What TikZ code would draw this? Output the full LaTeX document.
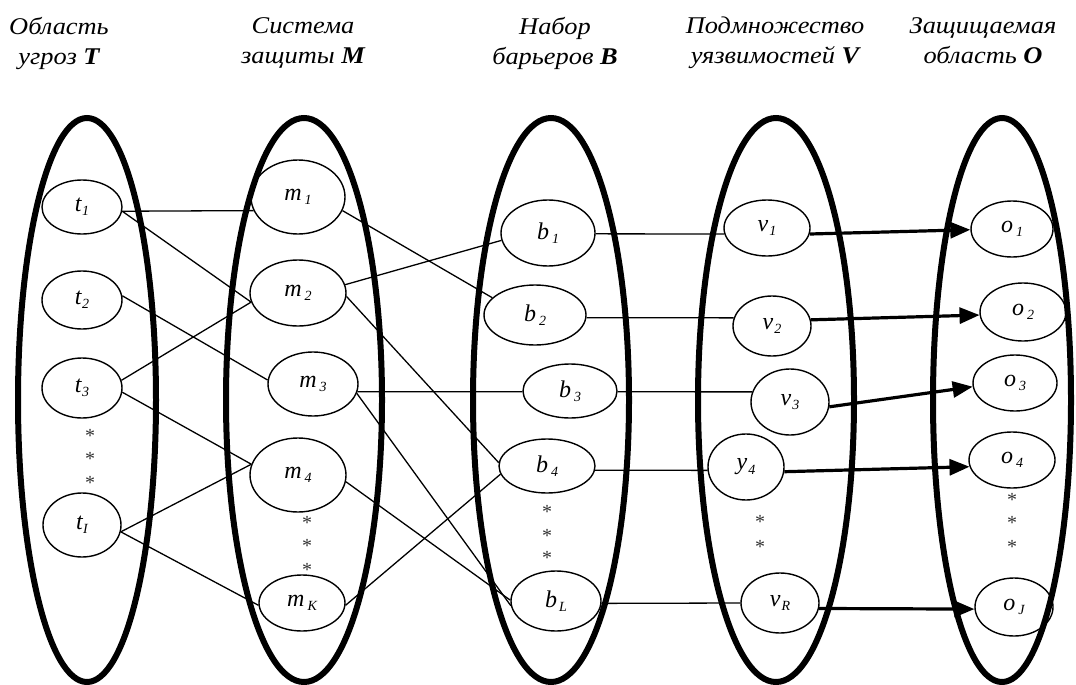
\documentclass[tikz,border=0pt]{standalone}
\usepackage{fontspec}
\setmainfont{Liberation Serif}
\newfontfamily\headfont[FakeStretch=1.1]{Liberation Serif}
\usetikzlibrary{arrows.meta,shapes.geometric}

% italic symbol with a lowered italic index
\newcommand\ix[3][0pt]{\textit{#2}\kern#1\raisebox{-0.4ex}{\fontsize{14}{14}\selectfont\itshape #3}}

\tikzset{
  ring/.style={line width=6pt},
  el/.style={ellipse, draw, line width=1.4pt, inner sep=0pt,
             font=\fontsize{24}{24}\selectfont},
  link/.style={line width=1.3pt},
  hit/.style={line width=3.2pt, -{Triangle[length=20pt,width=16pt]}},
  hdr/.style={align=center, anchor=north, inner sep=0pt,
              font=\headfont\fontsize{24}{30}\selectfont\itshape},
  dots/.style={font=\fontsize{20}{20}\selectfont, inner sep=0pt, text=black!80}
}

\begin{document}
\begin{tikzpicture}[x=1pt,y=-1pt]
\useasboundingbox (0,0) rectangle (1076,685);

% column headings
\node[hdr] (hT) at (59,17)  {Область\\угроз \textbf{T}};
\node[hdr] (hM) at (303,17) {Система\\защиты \textbf{M}};
\node[hdr] (hB) at (555,17) {Набор\\барьеров \textbf{B}};
\node[hdr] (hV) at (775,17) {Подмножество\\уязвимостей \textbf{V}};
\node[hdr] (hO) at (983,17) {Защищаемая\\область \textbf{O}};

% the five sets
\draw[ring] (87,400)   ellipse [x radius=69pt, y radius=282pt];
\draw[ring] (304,400)  ellipse [x radius=78pt, y radius=282pt];
\draw[ring] (551,400)  ellipse [x radius=78pt, y radius=282pt];
\draw[ring] (776,400)  ellipse [x radius=78pt, y radius=282pt];
\draw[ring] (1002,400) ellipse [x radius=69pt, y radius=282pt];

% threats
\node[el, minimum width=80pt, minimum height=54pt] (t1) at (82,207) {\ix{t}{1}};
\node[el, minimum width=80pt, minimum height=58pt] (t2) at (82,300) {\ix{t}{2}};
\node[el, minimum width=80pt, minimum height=60pt] (t3) at (82,388) {\ix{t}{3}};
\node[el, minimum width=78pt, minimum height=64pt] (tI) at (82,525) {\ix{t}{I}};
\node[dots] (sT1) at (90,436) {*};
\node[dots] (sT2) at (90,459) {*};
\node[dots] (sT3) at (90,483) {*};

% protection means
\node[el, minimum width=94pt, minimum height=74pt] (m1) at (298,197) {\ix[3pt]{m}{1}};
\node[el, minimum width=96pt, minimum height=66pt] (m2) at (298,293) {\ix[3pt]{m}{2}};
\node[el, minimum width=90pt, minimum height=64pt] (m3) at (313,384) {\ix[3pt]{m}{3}};
\node[el, minimum width=96pt, minimum height=74pt] (m4) at (298,475) {\ix[3pt]{m}{4}};
\node[el, minimum width=86pt, minimum height=56pt] (mK) at (302,603) {\ix[3pt]{m}{K}};
\node[dots] (sM1) at (307,523) {*};
\node[dots] (sM2) at (307,546) {*};
\node[dots] (sM3) at (307,570) {*};

% barriers
\node[el, minimum width=94pt, minimum height=66pt]  (b1) at (548,233) {\ix[3pt]{b}{1}};
\node[el, minimum width=102pt, minimum height=60pt] (b2) at (535,315) {\ix[3pt]{b}{2}};
\node[el, minimum width=94pt, minimum height=54pt]  (b3) at (570,391) {\ix[3pt]{b}{3}};
\node[el, minimum width=96pt, minimum height=54pt]  (b4) at (547,466) {\ix[3pt]{b}{4}};
\node[el, minimum width=90pt, minimum height=60pt]  (bL) at (556,601) {\ix[2pt]{b}{L}};
\node[dots] (sB1) at (547,512) {*};
\node[dots] (sB2) at (547,536) {*};
\node[dots] (sB3) at (547,558) {*};

% vulnerabilities
\node[el, minimum width=86pt, minimum height=56pt] (v1) at (767,228) {\ix[1pt]{v}{1}};
\node[el, minimum width=78pt, minimum height=60pt] (v2) at (772,326) {\ix[1pt]{v}{2}};
\node[el, minimum width=78pt, minimum height=66pt] (v3) at (790,402) {\ix[1pt]{v}{3}};
\node[el, minimum width=76pt, minimum height=66pt] (y4) at (746,467) {\ix[1pt]{y}{4}};
\node[el, minimum width=78pt, minimum height=60pt] (vR) at (780,603) {\ix[1pt]{v}{R}};
\node[dots] (sV1) at (760,522) {*};
\node[dots] (sV2) at (760,547) {*};

% protected objects
\node[el, minimum width=82pt, minimum height=56pt] (o1) at (1012,229) {\ix[3pt]{o}{1}};
\node[el, minimum width=86pt, minimum height=58pt] (o2) at (1023,312) {\ix[3pt]{o}{2}};
\node[el, minimum width=84pt, minimum height=56pt] (o3) at (1015,383) {\ix[3pt]{o}{3}};
\node[el, minimum width=86pt, minimum height=56pt] (o4) at (1012,460) {\ix[3pt]{o}{4}};
\node[el, minimum width=78pt, minimum height=58pt] (oJ) at (1014,607) {\ix[3pt]{o}{J}};
\node[dots] (sO1) at (1012,500) {*};
\node[dots] (sO2) at (1012,523) {*};
\node[dots] (sO3) at (1012,547) {*};

% threats -> means
\draw[link] (t1.-6)  -- (m1.197);
\draw[link] (t1.-6)  -- (m2.191);
\draw[link] (t2.6)   -- (m3.175);
\draw[link] (t3.11)  -- (m2.191);
\draw[link] (t3.-6)  -- (m4.167);
\draw[link] (tI.-10) -- (m4.167);
\draw[link] (tI.-10) -- (mK.183);

% means -> barriers
\draw[link] (m1.-17) -- (b2.158);
\draw[link] (m2.10)  -- (b1.189);
\draw[link] (m2.-4)  -- (b4.176);
\draw[link] (m3.-10) -- (b3.181);
\draw[link] (m3.-12) -- (bL.186);
\draw[link] (m4.-8)  -- (bL.179);
\draw[link] (mK.-3)  -- (b4.190);

% barriers -> vulnerabilities
\draw[link] (b1.-1) -- (v1.188);
\draw[link] (b2.-3) -- (v2.168);
\draw[link] (b3.-1) -- (v3.165);
\draw[link] (b4.-5) -- (y4.185);
\draw[link] (bL.-3) -- (vR.180);

% vulnerabilities -> protected objects
\draw[hit] (v1.-8) -- (o1.181);
\draw[hit] (v2.9)  -- (o2.184);
\draw[hit] (v3.-7) -- (o3.185);
\draw[hit] (y4.-7) -- (o4.189);
\draw[hit] (vR.-8) -- (oJ.183);
\end{tikzpicture}
\end{document}
